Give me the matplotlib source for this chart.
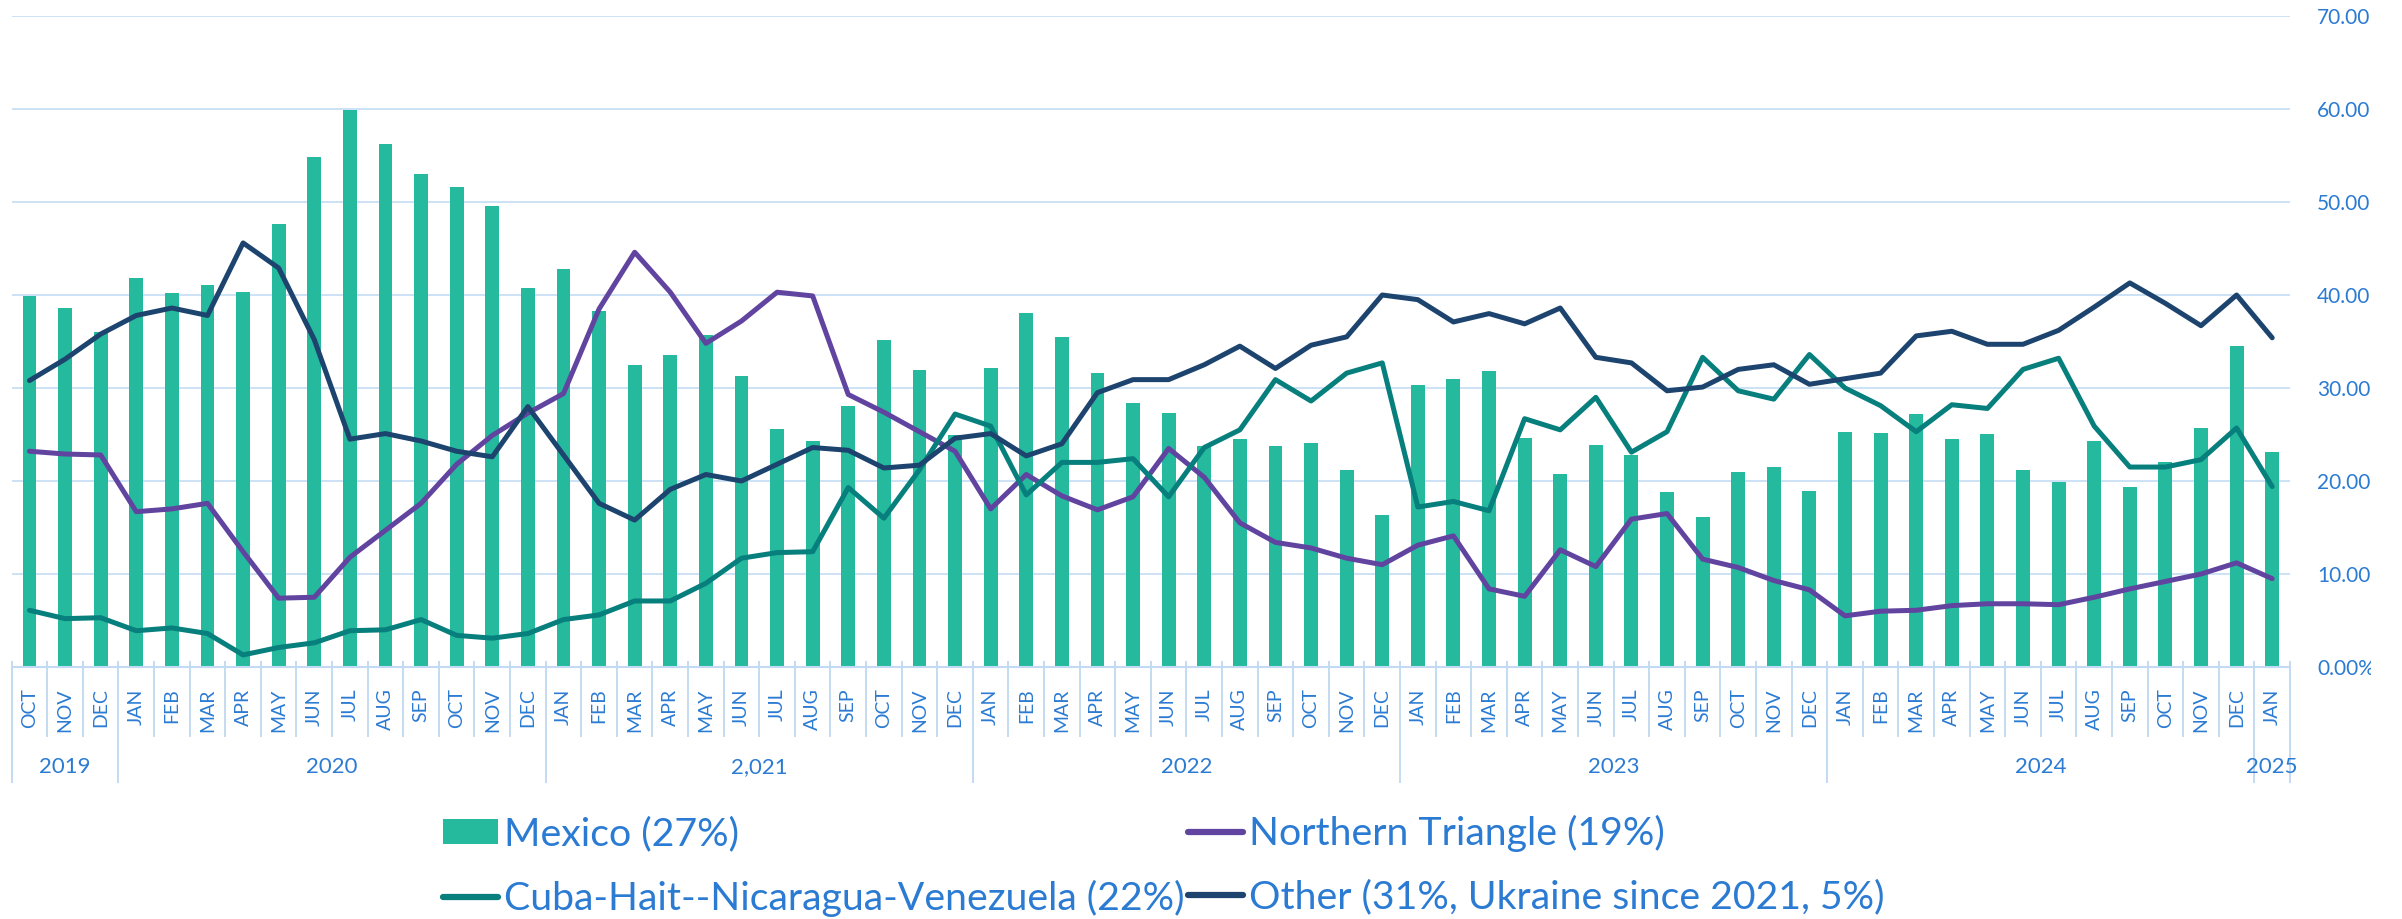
import matplotlib
matplotlib.use("Agg")
import matplotlib.pyplot as plt
from matplotlib.lines import Line2D
from matplotlib.transforms import Bbox
import numpy as np

# ---------------- data ----------------
months = (["OCT", "NOV", "DEC"]
          + ["JAN", "FEB", "MAR", "APR", "MAY", "JUN",
             "JUL", "AUG", "SEP", "OCT", "NOV", "DEC"] * 5
          + ["JAN"])
years = ["2019", "2020", "2,021", "2022", "2023", "2024", "2025"]
year_counts = [3, 12, 12, 12, 12, 12, 1]

mexico = [39.9, 38.6, 36.0, 41.8, 40.2, 41.1, 40.3, 47.6, 54.8, 59.9, 56.2, 53.0,
          51.6, 49.6, 40.7, 42.8, 38.3, 32.5, 33.5, 35.7, 31.3, 25.6,
          24.3, 28.1, 35.2, 31.9, 24.9, 32.2, 38.1, 35.5, 31.6, 28.4, 27.3, 23.8,
          24.5, 23.8, 24.1, 21.2, 16.3, 30.3, 31.0, 31.8, 24.6, 20.8, 23.9,
          22.8, 18.8, 16.1, 21.0, 21.5, 18.9, 25.3, 25.2, 27.2, 24.5, 25.1, 21.2,
          19.9, 24.3, 19.4, 22.0, 25.7, 34.5, 23.1]
northern = [23.2, 22.9, 22.8, 16.7, 17.0, 17.6, 12.4, 7.4, 7.5, 11.8, 14.7, 17.6,
            21.8, 24.9, 27.3, 29.4, 38.5, 44.6, 40.3, 34.8, 37.2, 40.3,
            39.9, 29.3, 27.4, 25.3, 23.2, 17.0, 20.7, 18.4, 16.9, 18.3, 23.5, 20.4,
            15.5, 13.4, 12.8, 11.7, 11.0, 13.1, 14.1, 8.4, 7.6, 12.6, 10.8,
            15.9, 16.5, 11.6, 10.7, 9.3, 8.3, 5.5, 6.0, 6.1, 6.6, 6.8, 6.8,
            6.7, 7.5, 8.4, 9.2, 10.0, 11.2, 9.5]
cuba = [6.1, 5.2, 5.3, 3.9, 4.2, 3.6, 1.3, 2.1, 2.6, 3.9, 4.0, 5.1,
        3.4, 3.1, 3.6, 5.1, 5.6, 7.1, 7.1, 9.0, 11.7, 12.3,
        12.4, 19.3, 16.0, 21.2, 27.2, 25.9, 18.5, 22.0, 22.0, 22.4, 18.3, 23.6,
        25.5, 30.9, 28.6, 31.6, 32.7, 17.2, 17.8, 16.8, 26.7, 25.5, 29.0,
        23.1, 25.3, 33.3, 29.7, 28.8, 33.6, 30.0, 28.1, 25.3, 28.2, 27.8, 32.0,
        33.2, 25.9, 21.5, 21.5, 22.3, 25.7, 19.4]
other = [30.8, 33.1, 35.8, 37.8, 38.6, 37.8, 45.6, 42.9, 35.2, 24.5, 25.1, 24.3,
         23.2, 22.6, 28.0, 22.8, 17.6, 15.8, 19.1, 20.7, 20.0, 21.8,
         23.6, 23.3, 21.4, 21.7, 24.6, 25.1, 22.7, 24.0, 29.5, 30.9, 30.9, 32.5,
         34.5, 32.1, 34.6, 35.5, 40.0, 39.5, 37.1, 38.0, 36.9, 38.6, 33.3,
         32.7, 29.7, 30.1, 32.0, 32.5, 30.4, 31.0, 31.6, 35.6, 36.1, 34.7, 34.7,
         36.2, 38.7, 41.3, 39.1, 36.7, 40.0, 35.4]

series_labels = ["Mexico (27%)", "Northern Triangle (19%)",
                 "Cuba-Hait--Nicaragua-Venezuela (22%)",
                 "Other (31%, Ukraine since 2021, 5%)"]
ytick_values = [0, 10, 20, 30, 40, 50, 60, 70]
ytick_labels = ["0.00%", "10.00", "20.00", "30.00", "40.00", "50.00", "60.00", "70.00"]

# ---------------- style ----------------
plt.rcParams["font.family"] = ["Lato", "DejaVu Sans"]
C_BAR = "#25BA9D"
C_NT = "#60449F"
C_CUBA = "#067F7D"
C_OTHER = "#1C446E"
C_TEXT = "#2B7BD3"
C_GRID = "#CDE2F6"
C_AXIS = "#C3DBF2"

W, H = 2402, 919
fig = plt.figure(figsize=(W / 100, H / 100), dpi=100)
left_px, right_px, top_px, bot_px = 11.7, 2290, 16, 667
ax = fig.add_axes([left_px / W, 1 - bot_px / H, (right_px - left_px) / W, (bot_px - top_px) / H])

x = np.arange(len(months))
bars = ax.bar(x, mexico, width=0.39, color=C_BAR, zorder=2)
lw = 3.6
kw = dict(lw=lw, solid_capstyle="round", solid_joinstyle="round", zorder=3)
ax.plot(x, northern, color=C_NT, **kw)
ax.plot(x, cuba, color=C_CUBA, **kw)
ax.plot(x, other, color=C_OTHER, **kw)

ax.set_xlim(-0.5, len(months) - 0.5)
ax.set_ylim(0, 70)

for s in ["top", "left", "right"]:
    ax.spines[s].set_visible(False)
ax.spines["bottom"].set_color(C_AXIS)
ax.spines["bottom"].set_linewidth(1.5)

ax.set_yticks(ytick_values)
ax.set_yticklabels(ytick_labels)
ax.yaxis.tick_right()
ax.tick_params(axis="y", length=0, pad=19.5, labelsize=15, labelcolor=C_TEXT)
ax.yaxis.grid(True, color=C_GRID, lw=1.4)
ax.set_axisbelow(True)

ax.set_xticks(x)
ax.set_xticklabels(months, rotation=90)
ax.tick_params(axis="x", length=0, pad=15.5, labelsize=14, labelcolor=C_TEXT)

# category boundaries and year separators
axh = bot_px - top_px
xt = ax.get_xaxis_transform()
edges = np.arange(-0.5, len(months), 1.0)
ax.vlines(edges, -70 / axh, 6 / axh, transform=xt, clip_on=False, color=C_AXIS, lw=1.4)
year_edges = np.concatenate([[-0.5], np.cumsum(year_counts) - 0.5])
ax.vlines(year_edges, -116 / axh, -70 / axh, transform=xt, clip_on=False, color=C_AXIS, lw=1.4)
for i, yl in enumerate(years):
    cx = (year_edges[i] + year_edges[i + 1]) / 2
    ax.text(cx, -100 / axh, yl, transform=xt, ha="center", va="center",
            fontsize=16, color=C_TEXT)

# clip the bottom right label as in the original
fig.canvas.draw()
clip = Bbox.from_extents(0, 0, 2371, H)
for t in ax.yaxis.get_major_ticks():
    t.label2.set_clip_box(clip)
    t.label2.set_clip_on(True)

# legend
fsz = 28.3
handles = [
    bars,
    Line2D([], [], color=C_CUBA, lw=4.5, solid_capstyle="round"),
    Line2D([], [], color=C_NT, lw=4.5, solid_capstyle="round"),
    Line2D([], [], color=C_OTHER, lw=4.5, solid_capstyle="round"),
]
labels = [series_labels[0], series_labels[2], series_labels[1], series_labels[3]]
fig.legend(handles, labels, ncol=2, loc="upper left",
           bbox_to_anchor=(443 / W, 1 - 815 / H), frameon=False, fontsize=fsz,
           labelcolor=C_TEXT, handlelength=1.4, handleheight=0.62,
           handletextpad=0.15, columnspacing=0.1, labelspacing=0.7,
           borderpad=0, borderaxespad=0)

fig.savefig("out.png", dpi=100)
